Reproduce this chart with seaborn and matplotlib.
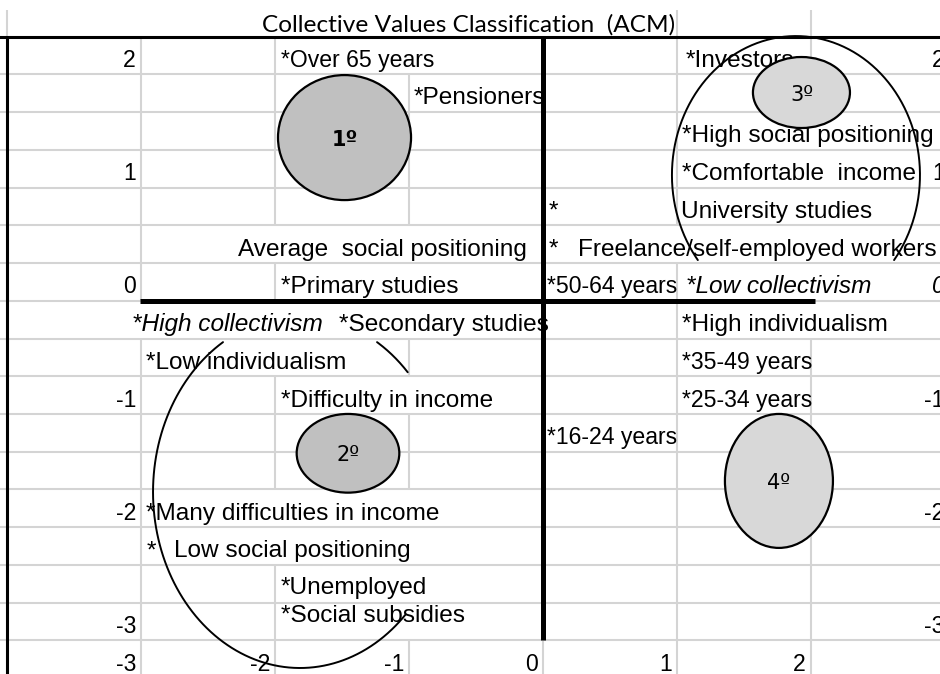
import numpy as np
import matplotlib
matplotlib.use('Agg')
import matplotlib.pyplot as plt
from matplotlib.patches import Ellipse
import seaborn as sns

# category labels on the factor map (x = left edge, y = bottom of the sheet row)
labels = ['*Over 65 years', '*Pensioners', '*Investors', '*High social positioning',
          '*Comfortable  income', '*', 'University studies', 'Average  social positioning',
          '*', 'Freelance/self-employed workers', '*Primary studies', '*50-64 years',
          '*Low collectivism', '*High collectivism', '*Secondary studies',
          '*High individualism', '*Low individualism', '*35-49 years',
          '*Difficulty in income', '*25-34 years', '*16-24 years',
          '*Many difficulties in income', '*', 'Low social positioning',
          '*Unemployed', '*Social subsidies']
label_x = [-1.955, -0.963, 1.067, 1.037, 1.037, 0.045, 1.03, -2.276, 0.045, 0.261,
           -1.955, 0.03, 1.067, -3.067, -1.522, 1.037, -2.963, 1.037, -1.955, 1.037,
           0.03, -2.963, -2.955, -2.751, -1.955, -1.955]
label_y = [2.0, 1.667, 2.0, 1.333, 1.0, 0.667, 0.667, 0.333, 0.333, 0.333,
           0.0, 0.0, 0.0, -0.333, -0.333, -0.333, -0.667, -0.667, -1.0, -1.0,
           -1.333, -2.0, -2.333, -2.333, -2.654, -2.901]
italic_labels = ['*Low collectivism', '*High collectivism']

# axis values written in the sheet
y_values = [2, 1, 0, -1, -2, -3]
x_values = [-3, -2, -1, 0, 1, 2]

# clusters (filled ellipses)
clusters = ['1º', '2º', '3º', '4º']
cl_x = [-1.481, -1.455, 1.929, 1.761]
cl_y = [1.441, -1.347, 1.839, -1.591]
cl_w = [0.993, 0.766, 0.724, 0.806]
cl_h = [1.104, 0.695, 0.627, 1.183]
cl_color = ['#c0c0c0', '#c0c0c0', '#d8d8d8', '#d8d8d8']

# open arcs around the groups (parametric angles in degrees)
arc_x = [1.888, -1.813, -1.813]
arc_y = [1.110, -1.689, -1.689]
arc_w = [1.851, 2.194, 2.194]
arc_h = [2.455, 3.108, 3.108]
arc_from = [-37.7, 42.9, 121.6]
arc_to = [217.7, 58.4, 315.7]

title = 'Collective Values Classification  (ACM)'

sns.set_style('white')
plt.rcParams['font.family'] = ['Liberation Sans', 'DejaVu Sans']
plt.rcParams['text.color'] = 'black'
FS = 17.6       # words
FS_NUM = 16.6   # numbers (drawn narrow in the sheet)
GRID = '#d4d4d4'

fig = plt.figure(figsize=(9.4, 6.74), dpi=100)
ax = fig.add_axes([0, 0, 1, 1])
ax.set_xlim(-4.052, 2.963)
ax.set_ylim(-3.296, 2.656)
ax.axis('off')

texts = []
for txt, x, y in zip(labels, label_x, label_y):
    style = 'italic' if txt in italic_labels else 'normal'
    fs = FS_NUM if any(ch.isdigit() for ch in txt) else FS
    t = ax.annotate(txt, (x, y), xytext=(0, 5.4), textcoords='offset points',
                    ha='left', va='baseline', fontsize=fs, style=style, zorder=3)
    texts.append((y, t))

for v in y_values:
    t = ax.annotate(str(v), (-3, v), xytext=(-3.6, 5.4), textcoords='offset points',
                    ha='right', va='baseline', fontsize=FS_NUM, zorder=3)
    texts.append((v, t))
    ax.annotate(str(v), (3.035, v), xytext=(-3.6, 5.4), textcoords='offset points',
                ha='right', va='baseline', fontsize=FS_NUM, zorder=3,
                style='italic' if v == 0 else 'normal', annotation_clip=False)

for v in x_values:
    t = ax.annotate(str(v), (v, -10 / 3), xytext=(-3.6, 5.4), textcoords='offset points',
                    ha='right', va='baseline', fontsize=FS_NUM, zorder=3,
                    annotation_clip=False)
    texts.append((-10 / 3, t))

ax.text(-0.556, 2.373, title, ha='center', va='baseline', fontsize=17.6,
        family=['Lato', 'DejaVu Sans'], zorder=3)

# sheet grid: vertical cell borders are hidden where a text overflows
fig.canvas.draw()
inv = ax.transData.inverted()
spans = []
for y, t in texts:
    bb = t.get_window_extent()
    (x0, _), (x1, _) = inv.transform([[bb.x0, bb.y0], [bb.x1, bb.y1]])
    rb = np.floor((y + 0.01) * 3) / 3
    spans.append((rb, x0, x1))

row_edges = np.arange(7, -11, -1) / 3
cols = np.arange(-4, 4)
for c in cols:
    for k in range(len(row_edges) - 1):
        top, bot = row_edges[k], row_edges[k + 1]
        hidden = any(abs(rb - bot) < 1e-3 and x0 < c - 0.01 and x1 > c + 0.01
                     for rb, x0, x1 in spans)
        if not hidden:
            ax.vlines(c, bot - 0.1 if k == len(row_edges) - 2 else bot, top,
                      color=GRID, lw=1.5, zorder=1)
for y in row_edges[1:-1]:
    ax.hlines(y, -4.1, 3.1, color=GRID, lw=1.5, zorder=1)

# title row cells
ax.vlines([-4, 1, 2], 7 / 3, 2.567, color=GRID, lw=1.5, zorder=1)

# sheet border and factor axes
ax.hlines(7 / 3, -4.1, 3.1, color='black', lw=2.2, zorder=4)
ax.vlines(-4, -3.4, 7 / 3, color='black', lw=2.2, zorder=4)
ax.vlines(0, -3, 7 / 3, color='black', lw=3.6, zorder=4)
ax.hlines(0, -3.01, 2.03, color='black', lw=3.6, zorder=4)

# clusters
for name, x, y, w, h, col in zip(clusters, cl_x, cl_y, cl_w, cl_h, cl_color):
    ax.add_patch(Ellipse((x, y), w, h, facecolor=col, edgecolor='black', lw=1.6, zorder=5))
    ax.text(x, y, name, ha='center', va='center_baseline', fontsize=15,
            fontweight='bold' if name == '1º' else 'normal',
            family=['DejaVu Sans'], zorder=7)

for x, y, w, h, t0, t1 in zip(arc_x, arc_y, arc_w, arc_h, arc_from, arc_to):
    t = np.radians(np.linspace(t0, t1, 300))
    sns.lineplot(x=x + w / 2 * np.cos(t), y=y + h / 2 * np.sin(t), sort=False,
                 estimator=None, color='black', lw=1.4, ax=ax, zorder=6)

ax.set_xlim(-4.052, 2.963)
ax.set_ylim(-3.296, 2.656)
ax.axis('off')
fig.savefig('out.png', dpi=100)
